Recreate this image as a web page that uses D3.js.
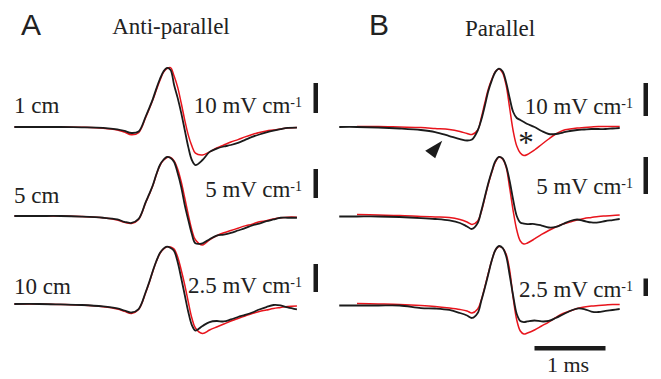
<!DOCTYPE html>
<html>
<head>
<meta charset="utf-8">
<script src="https://cdn.jsdelivr.net/npm/d3@7"></script>
<style>
  html, body { margin: 0; padding: 0; background: #fff; }
  svg { display: block; }
</style>
</head>
<body>
<div id="chart"></div>
<script>
// Time (ms, relative to the spike peak) for each panel
const timeAnti = [-2.15, -1.8, -1.5, -1.2, -0.9, -0.7, -0.6, -0.5, -0.4, -0.3, -0.25, -0.2, -0.15, -0.1, -0.05,
  0, 0.05, 0.1, 0.15, 0.2, 0.25, 0.3, 0.35, 0.4, 0.5, 0.6, 0.7, 0.8, 0.9, 1.0, 1.1, 1.2, 1.3, 1.4, 1.5, 1.6, 1.7, 1.83];
const timePar = [-2.25, -2.0, -1.7, -1.4, -1.1, -0.9, -0.7, -0.55, -0.45, -0.38, -0.3, -0.25, -0.2, -0.15, -0.1, -0.05,
  0, 0.05, 0.1, 0.15, 0.2, 0.25, 0.3, 0.35, 0.4, 0.5, 0.6, 0.7, 0.8, 0.9, 1.0, 1.1, 1.2, 1.3, 1.4, 1.5, 1.6, 1.7];

// Field gradient (mV cm-1), anti-parallel configuration
const anti1cmBlack = [0, 0, 0, -0.1, -0.3, -0.8, -1.3, -2.0, -1.5, 3.5, 6.3, 9.3, 12.8, 16.0, 18.5, 19.7, 19.0, 14.0, 9.7, 4.7,
  -1.0, -6.7, -11.0, -12.7, -11.0, -8.3, -7.2, -6.5, -6.0, -5.3, -4.3, -3.3, -2.5, -1.8, -1.2, -0.7, -0.3, -0.2];
const anti1cmRed = [0, 0, 0, -0.1, -0.4, -1.0, -1.7, -2.6, -1.9, 3.2, 6.0, 9.0, 12.3, 15.5, 18.2, 19.5, 19.8, 17.0, 13.3, 8.0,
  2.3, -2.7, -6.3, -8.7, -9.3, -8.3, -7.0, -6.0, -5.0, -4.2, -3.3, -2.5, -1.8, -1.3, -1.0, -0.7, -0.3, -0.2];
const anti5cmBlack = [0, 0, 0, -0.1, -0.3, -0.6, -1.0, -1.2, -0.5, 2.4, 3.8, 5.3, 7.2, 8.8, 9.7, 10.2, 10.0, 9.3, 7.4, 5.0,
  1.9, -0.7, -3.1, -4.7, -4.7, -4.0, -3.4, -3.2, -2.9, -2.5, -2.1, -1.6, -1.3, -0.9, -0.6, -0.3, -0.3, -0.3];
const anti5cmRed = [0, 0, 0, -0.1, -0.3, -0.7, -1.1, -1.3, -0.6, 2.3, 3.7, 5.2, 7.1, 8.7, 9.6, 10.1, 10.1, 9.5, 8.1, 5.9,
  3.1, 0.2, -2.4, -4.1, -5.0, -4.1, -3.4, -2.9, -2.5, -2.1, -1.7, -1.4, -1.0, -0.8, -0.5, -0.3, -0.2, -0.2];
const anti10cmBlack = [0, 0, -0.04, -0.09, -0.22, -0.4, -0.58, -0.76, -0.45, 1.07, 1.96, 2.95, 3.84, 4.55, 4.95, 5.13, 5.0, 4.73, 3.75, 2.32,
  0.8, -0.71, -1.88, -2.37, -1.96, -1.61, -1.52, -1.56, -1.38, -1.16, -0.98, -0.76, -0.49, -0.27, -0.09, -0.13, -0.31, -0.49];
const anti10cmRed = [0, 0, -0.04, -0.1, -0.25, -0.45, -0.65, -0.85, -0.5, 1.0, 1.9, 2.9, 3.8, 4.5, 4.9, 5.1, 5.09, 4.91, 4.2, 3.04,
  1.7, 0.18, -1.25, -2.14, -2.63, -2.32, -2.05, -1.79, -1.52, -1.29, -1.07, -0.85, -0.67, -0.54, -0.4, -0.31, -0.22, -0.18];

// Field gradient (mV cm-1), parallel configuration (red trace starts later)
const par1cmBlack = [0, 0, -0.15, -0.45, -0.91, -1.52, -2.73, -3.64, -4.09, -3.79, -1.06, 2.12, 6.36, 10.9, 14.2, 16.7,
  17.7, 16.9, 13.6, 8.79, 4.55, 2.73, 2.12, 1.52, 0.91, 0, -1.21, -2.12, -2.12, -1.67, -1.21, -0.91, -0.76, -0.61, -0.61, -0.61, -0.45, -0.3];
const par1cmRed = [null, 0.15, 0.15, 0, -0.15, -0.45, -0.76, -1.36, -1.97, -2.27, -0.91, 2.73, 7.27, 11.5, 14.5, 16.8,
  17.6, 16.4, 12.7, 5.76, -1.21, -5.76, -7.88, -8.64, -8.33, -6.97, -5.3, -3.64, -2.12, -1.06, -0.61, -0.3, -0.15, 0, 0.15, 0.15, 0.15, 0.15];
const par5cmBlack = [0.07, 0.07, 0.07, 0, -0.14, -0.27, -0.47, -0.81, -1.28, -1.62, -0.81, 0.81, 2.7, 4.59, 6.22, 7.57,
  8.11, 7.91, 6.89, 4.86, 2.3, 0.14, -0.74, -0.88, -0.95, -0.95, -1.15, -1.42, -1.35, -0.95, -0.54, -0.34, -0.54, -0.74, -0.74, -0.54, -0.41, -0.27];
const par5cmRed = [null, 0.34, 0.27, 0.2, 0.07, 0, -0.07, -0.34, -0.68, -1.01, -0.54, 0.68, 2.57, 4.46, 6.08, 7.43,
  8.11, 7.84, 6.76, 3.92, 0.81, -1.76, -3.24, -3.65, -3.51, -2.97, -2.36, -1.82, -1.35, -0.95, -0.68, -0.41, -0.2, -0.07, 0.07, 0.14, 0.2, 0.27];
const par10cmBlack = [0.07, 0.07, 0.07, 0.07, -0.29, -0.36, -0.57, -1.0, -1.36, -1.71, -1.0, 0.71, 2.57, 4.57, 6.57, 8.0,
  8.57, 8.29, 7.14, 4.43, 1.43, -1.14, -2.14, -2.29, -2.21, -2.07, -2.21, -2.14, -1.71, -1.21, -0.71, -0.36, -0.43, -0.79, -0.86, -0.71, -0.57, -0.43];
const par10cmRed = [null, 0.36, 0.29, 0.21, 0.07, -0.07, -0.29, -0.5, -0.71, -1.0, -0.43, 0.86, 2.71, 4.71, 6.57, 8.0,
  8.5, 8.29, 7.43, 5.14, 1.14, -2.0, -3.57, -4.0, -3.86, -3.43, -2.86, -2.29, -1.64, -1.07, -0.71, -0.36, -0.14, 0, 0.07, 0.14, 0.21, 0.21];

// Labels
const distanceLabels = ["1 cm", "5 cm", "10 cm"];
const gainValues = [10, 5, 2.5];
const gainLabels = ["10 mV cm", "5 mV cm", "2.5 mV cm"];
const timeBarMs = 1;
const timeBarLabel = "1 ms";

const W = 661, H = 379;
const RED = "#e8141c", BLACK = "#1b1b1b";
const serif = "'Liberation Serif', 'Times New Roman', serif";
const sans = "'Liberation Sans', Arial, Helvetica, sans-serif";

const svg = d3.select("#chart").append("svg")
  .attr("width", W).attr("height", H)
  .attr("viewBox", `0 0 ${W} ${H}`);

// Layout of the two panels and their three rows
const panels = [
  {
    letter: "A", title: "Anti-parallel", letterX: 21, titleX: 171, titleY: 34,
    time: timeAnti, peakX: 167, barX: 313.5, gainEndX: 302,
    rows: [
      { black: anti1cmBlack, red: anti1cmRed, base: 127, barPx: 30, barBottom: 113, labelY: 113, gainY: 113 },
      { black: anti5cmBlack, red: anti5cmRed, base: 216, barPx: 29, barBottom: 198, labelY: 203, gainY: 197 },
      { black: anti10cmBlack, red: anti10cmRed, base: 304, barPx: 28, barBottom: 292, labelY: 294, gainY: 293 }
    ]
  },
  {
    letter: "B", title: "Parallel", letterX: 369, titleX: 500, titleY: 36,
    time: timePar, peakX: 499, barX: 643.5, gainEndX: 633,
    rows: [
      { black: par1cmBlack, red: par1cmRed, base: 127, barPx: 33, barBottom: 116, gainY: 114 },
      { black: par5cmBlack, red: par5cmRed, base: 217, barPx: 37, barBottom: 194, gainY: 194 },
      { black: par10cmBlack, red: par10cmRed, base: 306, barPx: 17.5, barBottom: 296, gainY: 297 }
    ]
  }
];

const msPx = 71;

panels.forEach((p, pi) => {
  const x = d3.scaleLinear().domain([0, 1]).range([p.peakX, p.peakX + msPx]);
  p.x = x;

  svg.append("text")
    .attr("x", p.letterX).attr("y", 35)
    .attr("font-family", sans).attr("font-size", 30)
    .attr("fill", "#222")
    .text(p.letter);

  svg.append("text")
    .attr("x", p.titleX).attr("y", p.titleY)
    .attr("text-anchor", "middle")
    .attr("font-family", serif).attr("font-size", 23)
    .attr("fill", "#222")
    .text(p.title);

  p.rows.forEach((r, ri) => {
    const gain = gainValues[ri];
    const y = d3.scaleLinear().domain([0, gain]).range([r.base, r.base - r.barPx]);
    r.y = y;
    const line = d3.line()
      .defined(d => d[1] != null)
      .x(d => x(d[0]))
      .y(d => y(d[1]))
      .curve(d3.curveCatmullRom.alpha(0.5));

    const g = svg.append("g");
    g.append("path")
      .datum(p.time.map((t, i) => [t, r.red[i]]))
      .attr("d", line)
      .attr("fill", "none").attr("stroke", RED)
      .attr("stroke-width", 1.5).attr("stroke-linejoin", "round");
    g.append("path")
      .datum(p.time.map((t, i) => [t, r.black[i]]))
      .attr("d", line)
      .attr("fill", "none").attr("stroke", BLACK)
      .attr("stroke-width", 1.8).attr("stroke-linejoin", "round");

    // vertical calibration bar: height equals the row's gain value
    const barLen = y(0) - y(gain);
    svg.append("rect")
      .attr("x", p.barX).attr("width", 4.5)
      .attr("y", r.barBottom - barLen).attr("height", barLen)
      .attr("fill", BLACK);

    const gt = svg.append("text")
      .attr("x", p.gainEndX).attr("y", r.gainY)
      .attr("text-anchor", "end")
      .attr("font-family", serif).attr("font-size", 23)
      .attr("fill", "#222");
    gt.append("tspan").text(gainLabels[ri]);
    gt.append("tspan").attr("font-size", 14).attr("dy", -6).text("-1");

    if (pi === 0) {
      svg.append("text")
        .attr("x", 14).attr("y", r.labelY)
        .attr("font-family", serif).attr("font-size", 23)
        .attr("fill", "#222")
        .text(distanceLabels[ri]);
    }
  });
});

// Annotations on the parallel 1 cm traces
{
  const p = panels[1], r = p.rows[0];
  const tx = p.x(-0.8), ty = r.y(-4.2);
  svg.append("path")
    .attr("d", `M${tx},${ty} L${tx - 17},${ty + 10} L${tx - 7},${ty + 17.5} Z`)
    .attr("fill", BLACK);
  svg.append("text")
    .attr("x", p.x(0.38)).attr("y", r.y(-2.7) + 17)
    .attr("text-anchor", "middle")
    .attr("font-family", serif).attr("font-size", 31)
    .attr("fill", BLACK)
    .text("*");
}

// Time calibration bar
{
  const x = panels[1].x;
  svg.append("rect")
    .attr("x", x(0.5)).attr("width", x(0.5 + timeBarMs) - x(0.5))
    .attr("y", 346).attr("height", 4.5)
    .attr("fill", BLACK);
  svg.append("text")
    .attr("x", (x(0.5) + x(0.5 + timeBarMs)) / 2 - 2).attr("y", 372)
    .attr("text-anchor", "middle")
    .attr("font-family", serif).attr("font-size", 22)
    .attr("fill", "#222")
    .text(timeBarLabel);
}
</script>
</body>
</html>
